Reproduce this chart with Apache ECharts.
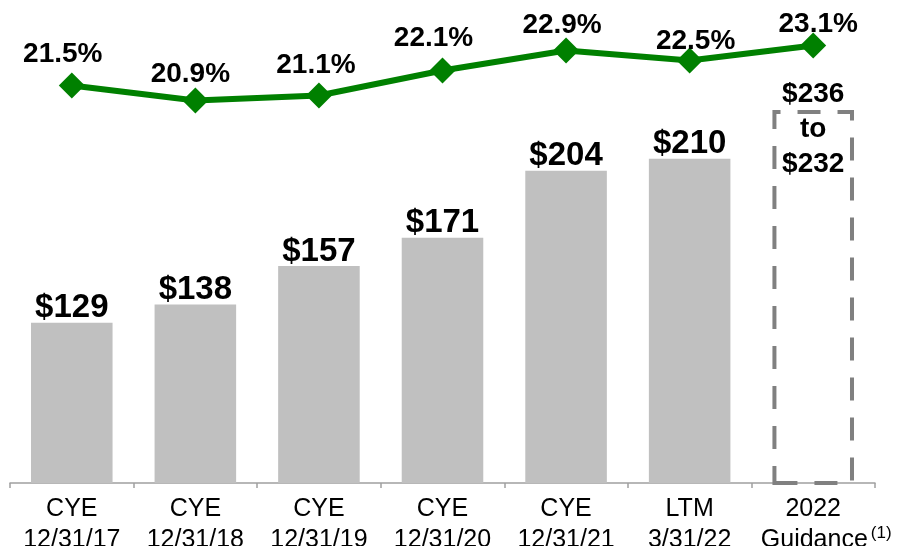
<!DOCTYPE html>
<html>
<head>
<meta charset="utf-8">
<script src="https://cdn.jsdelivr.net/npm/echarts@6/dist/echarts.min.js"></script>
<style>
  html, body { margin: 0; padding: 0; background: #fff; }
  #main { width: 900px; height: 546px; }
</style>
</head>
<body>
<div id="main"></div>
<script>
// 类目
var categories = ['CYE\n12/31/17', 'CYE\n12/31/18', 'CYE\n12/31/19', 'CYE\n12/31/20', 'CYE\n12/31/21', 'LTM\n3/31/22', '2022\nGuidance'];
// 收入（百万美元）
var revenue = [129, 138, 157, 171, 204, 210];
// 2022 指引区间
var guidanceRange = [236, 232];
// 利润率 %
var margin = [21.5, 20.9, 21.1, 22.1, 22.9, 22.5, 23.1];
// 百分比标签微调（像素）
var marginLabelShift = [[-9, 0], [-5, 5], [-3, 1], [-9, -1], [-4, 6], [6, 12], [5, 10]];

var FONT = 'Arial, "Liberation Sans", sans-serif';

function barChart(id) {
    var chart = echarts.init(document.getElementById(id));

    var barData = revenue.map(function (v) { return v; });
    //指引柱：虚线框
    barData.push({
        value: (guidanceRange[0] + guidanceRange[1]) / 2,
        itemStyle: {
            color: 'rgba(0,0,0,0)',
            borderColor: '#808080',
            borderWidth: 4,
            borderType: [23, 17]
        },
        label: {
            position: 'insideTop',
            distance: 0,
            offset: [0, -33],
            fontSize: 28,
            lineHeight: 35,
            formatter: '$' + guidanceRange[0] + '\nto\n$' + guidanceRange[1]
        }
    });

    var lineData = margin.map(function (v, i) {
        return { value: v, label: { offset: marginLabelShift[i] } };
    });

    var option = {
        animation: false,
        grid: { left: 10, right: 25, top: 33, bottom: 63, containLabel: false, outerBoundsMode: 'none' },
        xAxis: {
            type: 'category',
            data: categories,
            axisLine: { lineStyle: { color: '#a0a0a0', width: 1.5 } },
            axisTick: { show: true, length: 5, interval: 0, lineStyle: { color: '#a0a0a0', width: 1.5 } },
            axisLabel: {
                interval: 0,
                hideOverlap: false,
                margin: 11,
                color: '#000',
                fontFamily: FONT,
                fontSize: 25,
                lineHeight: 31,
                formatter: function (val) {
                    if (val.indexOf('Guidance') >= 0) {
                        return '2022\n{sp|}Guidance{sup|(1)}';
                    }
                    return val;
                },
                rich: {
                    sp: { width: 26 },
                    sup: { fontSize: 17, fontFamily: FONT, color: '#000', verticalAlign: 'top', lineHeight: 31, padding: [0, 0, 10, 3] }
                }
            }
        },
        yAxis: [
            { type: 'value', min: 50, max: 272, show: false, splitLine: { show: false } },
            { type: 'value', min: 5.6, max: 23.6, show: false, splitLine: { show: false } }
        ],
        series: [{
            type: 'bar',
            yAxisIndex: 0,
            barWidth: '66%',
            itemStyle: { color: '#c0c0c0' },
            label: {
                show: true,
                position: 'top',
                distance: -2,
                color: '#000',
                fontFamily: FONT,
                fontWeight: 'bold',
                fontSize: 33,
                formatter: function (p) { return '$' + p.value; }
            },
            data: barData
        }, {
            type: 'line',
            yAxisIndex: 1,
            z: 5,
            symbol: 'diamond',
            symbolSize: 26,
            lineStyle: { color: '#008000', width: 6 },
            itemStyle: { color: '#008000' },
            label: {
                show: true,
                position: 'top',
                distance: 4,
                color: '#000',
                fontFamily: FONT,
                fontWeight: 'bold',
                fontSize: 28,
                formatter: function (p) { return p.value.toFixed(1) + '%'; }
            },
            data: lineData
        }]
    };
    chart.setOption(option);
}

barChart('main');
</script>
</body>
</html>
